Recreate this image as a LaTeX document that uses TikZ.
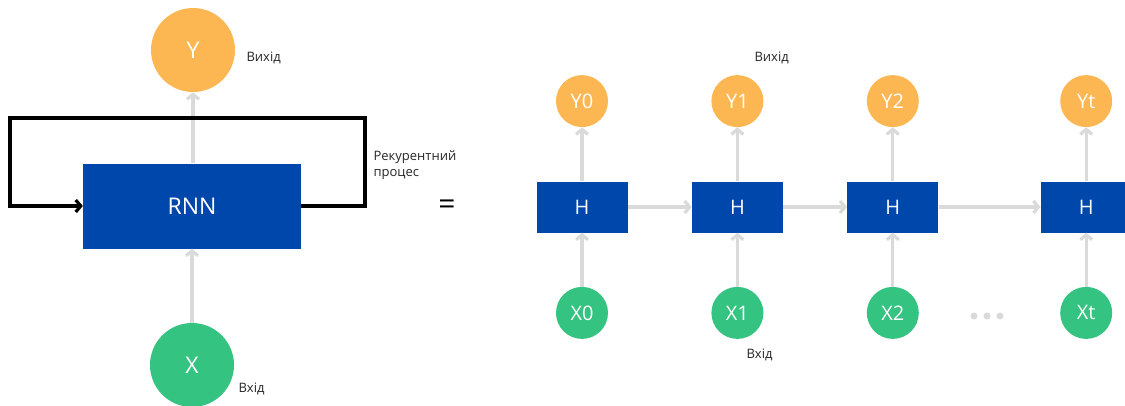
\documentclass[tikz,border=0pt]{standalone}
\usepackage{fontspec}
\setmainfont{Open Sans}
\usetikzlibrary{graphs, positioning, arrows.meta}

\definecolor{rnnblue}{HTML}{0047AB}
\definecolor{outorange}{HTML}{FDB752}
\definecolor{ingreen}{HTML}{34C380}
\definecolor{linkgray}{HTML}{DADADA}

\begin{document}
\begin{tikzpicture}[x=1pt, y=-1pt, node distance=54pt,
    cell/.style={fill=rnnblue, text=white, inner sep=0pt,
        minimum width=91pt, minimum height=51pt, font=\fontsize{20}{20}\selectfont},
    outnode/.style={circle, fill=outorange, text=white, inner sep=0pt,
        minimum size=52pt, font=\fontsize{20}{20}\selectfont},
    innode/.style={circle, fill=ingreen, text=white, inner sep=0pt,
        minimum size=52pt, font=\fontsize{20}{20}\selectfont},
    link/.style={draw=linkgray, line width=3.2pt, -{Straight Barb[length=5pt, width=12pt]}},
    recur/.style={draw=black, line width=3.2pt, -{Straight Barb[length=5pt, width=12pt]}},
    note/.style={anchor=west, text=black!85, align=left, font=\fontsize{13}{16}\selectfont},
]
    \useasboundingbox (0,0) rectangle (1125,405);

    % folded network
    \node[cell, minimum width=218pt, minimum height=85pt, font=\fontsize{23}{23}\selectfont]
                                          (RNN)  at (192,206) {RNN};
    \node[outnode, minimum size=84pt, font=\fontsize{23}{23}\selectfont]
                                          (Y)    at (193,50)  {Y};
    \node[innode, minimum size=84pt, font=\fontsize{23}{23}\selectfont]
                                          (X)    at (192,365) {X};

    \coordinate (loop right) at (365,118);
    \coordinate (loop left)  at (10,206);

    \draw[link]  (RNN.north -| Y) -- (Y);
    \draw[link]  (X) -- (RNN);
    \draw[recur] (RNN.east) -| (loop right) -| (loop left) -- (RNN.west);

    \node[note]                           (out label)  at (243,58)  {Вихід};
    \node[note]                           (in label)   at (235,389) {Вхід};
    \node[note]                           (rec label)  at (370,165) {Рекурентний\\процес};
    \node[font=\fontsize{30}{30}\selectfont] (equals)  at (447,207) {=};

    % unrolled network
    \node[cell]                           (H0)  at (582,207) {H};
    \node[cell, right=64pt of H0]         (H1)  {H};
    \node[cell, right=64pt of H1]         (H2)  {H};
    \node[cell, right=102pt of H2]        (Ht)  {H};

    \node[outnode, above=of H0]           (Y0)  {Y0};
    \node[outnode, above=of H1]           (Y1)  {Y1};
    \node[outnode, above=of H2]           (Y2)  {Y2};
    \node[outnode, above=of Ht]           (Yt)  {Yt};

    \node[innode, below=of H0]            (X0)  {X0};
    \node[innode, below=of H1]            (X1)  {X1};
    \node[innode, below=of H2]            (X2)  {X2};
    \node[innode, below=of Ht]            (Xt)  {Xt};

    \node[note]                           (out label 2) at (751,58)  {Вихід};
    \node[note]                           (in label 2)  at (743,355) {Вхід};

    \foreach \dx in {974,987,1000}
        \fill[linkgray] (\dx,316) circle (3.5pt);

    \graph[edges=link]{
        (H0) -> (H1) -> (H2) -> (Ht);
        (X0) -> (H0) -> (Y0);
        (X1) -> (H1) -> (Y1);
        (X2) -> (H2) -> (Y2);
        (Xt) -> (Ht) -> (Yt);
    };
\end{tikzpicture}
\end{document}
